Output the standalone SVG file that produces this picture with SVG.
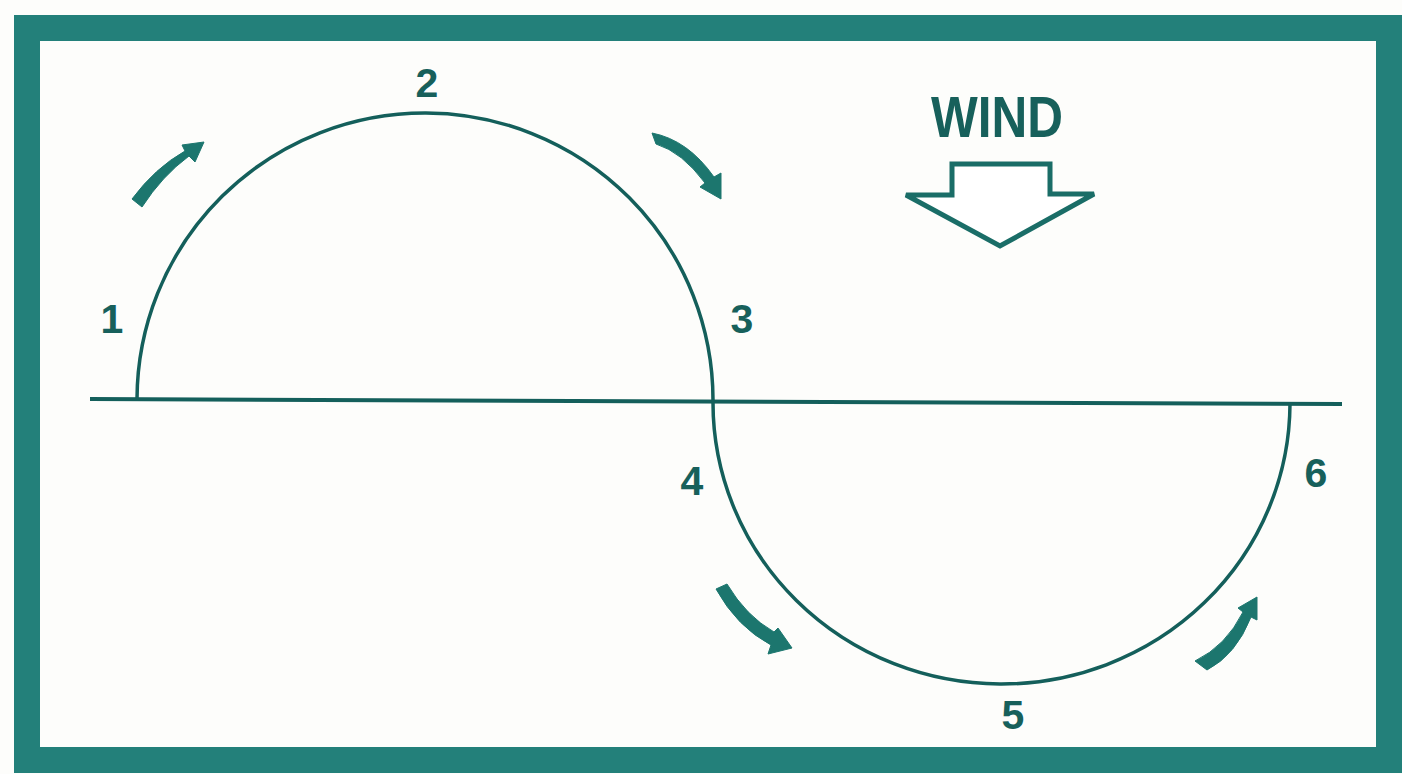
<svg xmlns="http://www.w3.org/2000/svg" width="1402" height="774" viewBox="0 0 1402 774">
<style>
.frame{fill:none;stroke:#23807a;stroke-width:26}
.ln{fill:none;stroke:#145f5b;stroke-width:4}
.arc{fill:none;stroke:#145f5b;stroke-width:3.5}
.arr{fill:#1c766e;stroke:#1c766e;stroke-width:1;stroke-linejoin:round}
.lbl{font-family:"Liberation Sans",Arial,sans-serif;font-weight:bold;font-size:41px;fill:#17605b;text-anchor:middle}
.wind{fill:#fff;stroke:#1a6d67;stroke-width:5;stroke-linejoin:miter}
</style>
<rect width="1402" height="774" fill="#fdfdfb"/>
<rect class="frame" x="27" y="28" width="1362" height="732"/>
<g id="axis"><line class="ln" x1="90" y1="399" x2="1342" y2="404"/></g>
<g id="connectors">
<path class="arc" d="M137,399 A288,287 0 0 1 713,401"/>
<path class="arc" d="M713,401 A288,281 0 0 0 1290,404"/>
<path class="arr" d="M132,199 Q155,168 185,151 L182,145 L204,142 L195,162 L189,156 Q162,176 142,207 Z"/>
<path class="arr" d="M652,133 Q688,140 714,177 L721,173 L721,199 L700,187 L705,183 Q682,152 656,144 Z"/>
<path class="arr" d="M716,589 L727,584 Q746,616 774,632 L778,628 L792,648 L768,654 L771,645 Q737,627 716,589 Z"/>
<path class="arr" d="M1195,661 Q1226,646 1243,612 L1238,608 L1257,597 L1257,620 L1251,617 Q1236,655 1207,670 Z"/>
</g>
<g id="n1"><text class="lbl" x="112" y="333">1</text></g>
<g id="n2"><text class="lbl" x="427" y="97">2</text></g>
<g id="n3"><text class="lbl" x="742" y="333">3</text></g>
<g id="n4"><text class="lbl" x="692" y="495">4</text></g>
<g id="n5"><text class="lbl" x="1013" y="729">5</text></g>
<g id="n6"><text class="lbl" x="1316" y="487">6</text></g>
<g id="wind">
<text x="997" y="137" font-family="'Liberation Sans',Arial,sans-serif" font-weight="bold" font-size="58" fill="#17605b" text-anchor="middle" textLength="132" lengthAdjust="spacingAndGlyphs">WIND</text>
<polygon class="wind" points="952,164 1050,164 1050,194 1094,194 1000,246 906,195 952,195"/>
</g>
</svg>
